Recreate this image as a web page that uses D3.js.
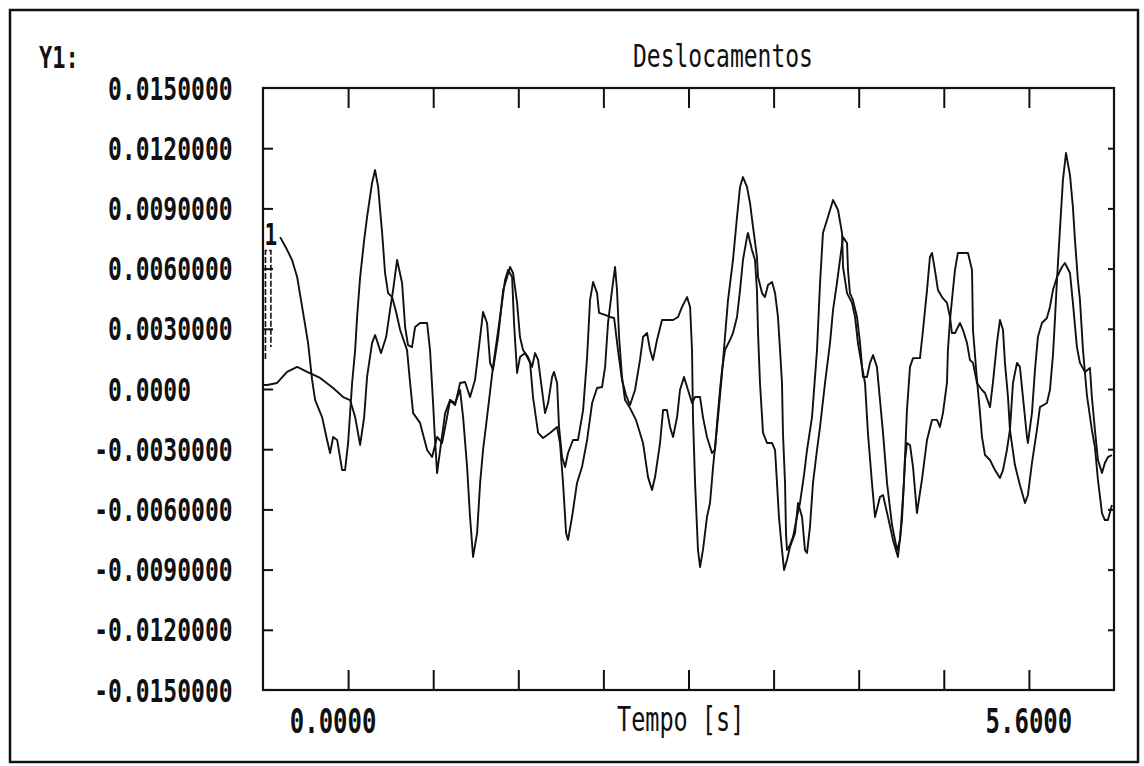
<!DOCTYPE html>
<html><head><meta charset="utf-8">
<script src="https://cdn.jsdelivr.net/npm/d3@7/dist/d3.min.js"></script>
<style>body{margin:0;background:#fff}</style>
</head><body>
<svg id="c" width="1144" height="766"></svg>
<script>
// ---- data ----
const yTicks = [0.015, 0.012, 0.009, 0.006, 0.003, 0, -0.003, -0.006, -0.009, -0.012, -0.015];
const yTickLabels = ["0.0150000","0.0120000","0.0090000","0.0060000","0.0030000","0.0000",
                     "-0.0030000","-0.0060000","-0.0090000","-0.0120000","-0.0150000"];
const xTicks = [0, 0.7, 1.4, 2.1, 2.8, 3.5, 4.2, 4.9, 5.6];
const xLabelTimes = [0, 5.6];
const xLabelTexts = ["0.0000", "5.6000"];
const xDomain = [-0.7, 6.3];
const yDomain = [-0.015, 0.015];
const title = "Deslocamentos";
const yTitle = "Y1:";
const xTitle = "Tempo [s]";
const curveLabel = "1";
// leader marks under the curve label (time pair, value range)
const leaderTimes = [-0.68, -0.635];
const leaderValues = [0.0069, 0.0015];

// curve 1 (labelled "1")
const t1 = [-0.559,-0.510,-0.461,-0.419,-0.370,-0.329,-0.296,-0.271,-0.214,-0.173,-0.148,-0.123,-0.090,-0.049,-0.025,0.000,
0.033,0.058,0.074,0.099,0.132,0.156,0.197,0.222,0.247,0.280,0.304,0.329,0.362,0.395,0.428,0.485,0.510,0.535,0.592,0.650,
0.691,0.732,0.773,0.814,0.839,0.880,0.921,0.962,1.003,1.044,1.086,1.110,1.143,1.168,1.192,1.234,1.275,1.308,1.332,1.357,
1.390,1.414,1.439,1.480,1.513,1.538,1.563,1.595,1.620,1.645,1.678,1.694,1.719,1.735,1.760,1.785,1.809,1.850,1.891,1.933,
1.966,1.990,2.015,2.048,2.064,2.114,2.155,2.188,2.220,2.253,2.286,2.319,2.360,2.401,2.426,2.459,2.484,2.508,2.541,2.582,
2.623,2.673,2.714,2.747,2.788,2.813,2.829,2.837,2.854,2.878,2.895,2.919,2.952,2.977,3.002,3.043,3.076,3.100,3.125,3.166,
3.199,3.224,3.248,3.281,3.306,3.331,3.363,3.372,3.405,3.429,3.454,3.487,3.512,3.536,3.553,3.569,3.577,3.594,3.602,3.610,
3.635,3.660,3.692,3.717,3.750,3.775,3.816,3.857,3.882,3.906,3.947,3.989,4.030,4.063,4.071,4.104,4.145,4.170,4.194,4.227,
4.252,4.276,4.309,4.334,4.375,4.400,4.441,4.482,4.523,4.556,4.581,4.597,4.622,4.647,4.679,4.720,4.762,4.803,4.844,4.868,
4.893,4.926,4.934,4.951,4.975,4.992,5.016,5.058,5.099,5.132,5.140,5.173,5.198,5.214,5.239,5.280,5.321,5.362,5.387,5.419,
5.444,5.469,5.502,5.526,5.551,5.584,5.592,5.625,5.650,5.674,5.707,5.748,5.773,5.798,5.831,5.872,5.896,5.938,5.962,5.995,
6.020,6.061,6.102,6.118,6.143,6.168,6.201,6.225,6.250,6.283];
const v1 = [0.00757,0.00703,0.00643,0.00558,0.00379,0.00229,0.00045,-0.00055,-0.00140,-0.00254,-0.00319,-0.00239,-0.00254,-0.00404,-0.00404,-0.00269,
0.00030,0.00194,0.00359,0.00558,0.00742,0.00857,0.01027,0.01091,0.01007,0.00777,0.00578,0.00478,0.00458,0.00384,0.00294,0.00194,0.00030,-0.00120,-0.00169,-0.00304,
-0.00339,-0.00239,-0.00269,-0.00140,-0.00055,-0.00080,0.00030,0.00035,-0.00040,0.00045,0.00259,0.00384,0.00329,0.00130,0.00095,0.00259,0.00493,0.00558,0.00608,0.00578,
0.00429,0.00259,0.00194,0.00159,0.00110,0.00179,0.00145,-0.00005,-0.00120,-0.00070,0.00060,0.00085,0.00030,-0.00189,-0.00339,-0.00389,-0.00319,-0.00254,-0.00254,-0.00105,
0.00159,0.00443,0.00533,0.00478,0.00379,0.00369,0.00359,0.00354,0.00194,0.00045,-0.00030,-0.00080,-0.00005,0.00145,0.00259,0.00279,0.00194,0.00145,0.00244,0.00344,
0.00344,0.00344,0.00359,0.00409,0.00458,0.00409,0.00194,-0.00140,-0.00468,-0.00802,-0.00887,-0.00802,-0.00638,-0.00568,-0.00389,-0.00140,0.00080,0.00259,0.00443,0.00643,
0.00857,0.01007,0.01056,0.01007,0.00927,0.00807,0.00658,0.00558,0.00478,0.00458,0.00518,0.00533,0.00478,0.00359,0.00194,0.00030,-0.00219,-0.00468,-0.00718,-0.00802,
-0.00777,-0.00737,-0.00638,-0.00568,-0.00429,-0.00304,-0.00140,0.00194,0.00528,0.00777,0.00857,0.00942,0.00892,0.00777,0.00608,0.00478,0.00429,0.00359,0.00229,0.00110,
0.00030,-0.00219,-0.00468,-0.00638,-0.00538,-0.00528,-0.00638,-0.00752,-0.00837,-0.00653,-0.00354,-0.00269,-0.00279,-0.00389,-0.00618,-0.00453,-0.00254,-0.00154,-0.00154,-0.00189,
-0.00120,0.00030,0.00194,0.00344,0.00493,0.00593,0.00678,0.00678,0.00678,0.00593,0.00294,0.00045,-0.00120,-0.00239,-0.00329,-0.00354,-0.00404,-0.00443,-0.00404,-0.00304,
-0.00204,0.00030,0.00130,0.00110,-0.00040,-0.00239,-0.00269,-0.00120,0.00095,0.00259,0.00329,0.00354,0.00409,0.00493,0.00558,0.00608,0.00628,0.00578,0.00429,0.00209,
0.00130,0.00085,0.00105,-0.00040,-0.00204,-0.00354,-0.00419,-0.00369,-0.00339,-0.00329];

// curve 2
const t2 = [-0.699,-0.666,-0.584,-0.502,-0.419,-0.337,-0.230,-0.123,-0.041,0.016,0.058,0.099,0.132,0.156,0.197,0.222,0.271,0.313,0.345,0.370,
0.403,0.444,0.469,0.493,0.526,0.551,0.592,0.650,0.674,0.699,0.715,0.732,0.765,0.798,0.839,0.880,0.921,0.946,0.979,1.003,
1.028,1.061,1.086,1.110,1.143,1.192,1.250,1.291,1.316,1.349,1.365,1.390,1.414,1.456,1.497,1.521,1.563,1.604,1.661,1.719,
1.743,1.768,1.793,1.809,1.842,1.883,1.924,1.966,2.007,2.048,2.089,2.114,2.138,2.171,2.196,2.212,2.229,2.253,2.278,2.319,
2.368,2.426,2.467,2.500,2.525,2.566,2.591,2.623,2.648,2.673,2.706,2.730,2.763,2.796,2.829,2.854,2.895,2.919,2.952,2.993,
3.018,3.035,3.059,3.076,3.100,3.141,3.166,3.199,3.224,3.248,3.281,3.289,3.322,3.347,3.363,3.372,3.388,3.413,3.446,3.487,
3.512,3.528,3.544,3.569,3.586,3.610,3.635,3.676,3.701,3.734,3.758,3.775,3.799,3.824,3.857,3.882,3.923,3.964,3.989,4.021,
4.046,4.071,4.104,4.112,4.128,4.153,4.186,4.211,4.235,4.268,4.293,4.318,4.350,4.375,4.400,4.433,4.474,4.515,4.540,4.572,
4.597,4.622,4.647,4.704,4.729,4.762,4.786,4.803,4.827,4.852,4.885,4.926,4.951,4.967,4.992,5.033,5.058,5.091,5.115,5.140,
5.173,5.214,5.239,5.280,5.304,5.337,5.362,5.387,5.403,5.428,5.444,5.485,5.526,5.568,5.592,5.625,5.666,5.691,5.748,5.773,
5.798,5.814,5.831,5.855,5.880,5.905,5.938,5.962,5.979,6.003,6.020,6.045,6.077,6.118,6.143,6.168,6.201,6.225,6.250,6.283];
const v2 = [0.00020,0.00020,0.00030,0.00085,0.00110,0.00085,0.00055,0.00005,-0.00040,-0.00055,-0.00140,-0.00279,-0.00140,0.00060,0.00229,0.00269,0.00179,0.00259,0.00394,0.00493,
0.00643,0.00528,0.00309,0.00219,0.00209,0.00309,0.00329,0.00329,0.00194,-0.00070,-0.00254,-0.00419,-0.00269,-0.00120,-0.00055,-0.00070,-0.00005,-0.00140,-0.00389,-0.00638,
-0.00837,-0.00718,-0.00468,-0.00304,-0.00140,0.00110,0.00359,0.00543,0.00593,0.00558,0.00329,0.00080,0.00159,0.00179,0.00130,-0.00040,-0.00219,-0.00244,-0.00219,-0.00189,
-0.00269,-0.00468,-0.00718,-0.00752,-0.00638,-0.00468,-0.00389,-0.00254,-0.00070,0.00005,0.00010,0.00110,0.00329,0.00493,0.00608,0.00493,0.00259,0.00060,-0.00055,-0.00095,
-0.00154,-0.00269,-0.00439,-0.00503,-0.00439,-0.00269,-0.00105,-0.00105,-0.00189,-0.00239,-0.00140,-0.00005,0.00060,-0.00005,-0.00070,-0.00040,-0.00040,-0.00140,-0.00239,-0.00319,
-0.00304,-0.00169,-0.00005,0.00095,0.00194,0.00244,0.00279,0.00359,0.00493,0.00643,0.00757,0.00777,0.00693,0.00643,0.00493,0.00279,0.00030,-0.00219,-0.00269,-0.00269,
-0.00304,-0.00468,-0.00638,-0.00802,-0.00902,-0.00852,-0.00787,-0.00718,-0.00568,-0.00638,-0.00802,-0.00817,-0.00688,-0.00468,-0.00304,-0.00189,0.00030,0.00229,0.00394,0.00528,
0.00643,0.00757,0.00728,0.00593,0.00478,0.00443,0.00359,0.00229,0.00060,0.00060,0.00130,0.00169,0.00110,-0.00055,-0.00219,-0.00468,-0.00678,-0.00802,-0.00752,-0.00468,
-0.00105,0.00110,0.00154,0.00154,0.00294,0.00493,0.00658,0.00678,0.00593,0.00493,0.00458,0.00429,0.00359,0.00279,0.00279,0.00329,0.00294,0.00229,0.00145,0.00130,
0.00030,-0.00005,-0.00020,-0.00090,0.00030,0.00229,0.00344,0.00294,0.00130,-0.00040,-0.00204,-0.00379,-0.00478,-0.00568,-0.00528,-0.00369,-0.00204,-0.00090,-0.00070,-0.00005,
0.00169,0.00344,0.00543,0.00792,0.01041,0.01176,0.01066,0.00907,0.00742,0.00543,0.00443,0.00194,-0.00030,-0.00204,-0.00289,-0.00453,-0.00618,-0.00653,-0.00653,-0.00578];

// ---- drawing ----
const svg = d3.select("#c");
const ink = "#111";
const mono = "'DejaVu Sans Mono', 'Liberation Mono', monospace";

const x = d3.scaleLinear().domain(xDomain).range([263, 1114]);
const y = d3.scaleLinear().domain(yDomain).range([690, 88]);

// outer frame
svg.append("rect").attr("x", 10).attr("y", 10).attr("width", 1128).attr("height", 752)
  .attr("fill", "none").attr("stroke", ink).attr("stroke-width", 2.5);

// plot box
svg.append("rect").attr("x", x.range()[0]).attr("y", y.range()[1])
  .attr("width", x.range()[1] - x.range()[0]).attr("height", y.range()[0] - y.range()[1])
  .attr("fill", "none").attr("stroke", ink).attr("stroke-width", 2.2);

// axes ticks via d3 axes
const inner = yTicks.filter(v => v !== yDomain[0] && v !== yDomain[1]);
const axL = svg.append("g").attr("transform", `translate(${x.range()[0]},0)`)
  .call(d3.axisRight(y).tickValues(inner).tickSize(10).tickFormat(""));
const axR = svg.append("g").attr("transform", `translate(${x.range()[1]},0)`)
  .call(d3.axisLeft(y).tickValues(inner).tickSize(6).tickFormat(""));
const axB = svg.append("g").attr("transform", `translate(0,${y.range()[0]})`)
  .call(d3.axisTop(x).tickValues(xTicks).tickSize(20).tickFormat(""));
const axT = svg.append("g").attr("transform", `translate(0,${y.range()[1]})`)
  .call(d3.axisBottom(x).tickValues(xTicks).tickSize(20).tickFormat(""));
[axL, axR, axB, axT].forEach(g => {
  g.select(".domain").remove();
  g.selectAll("line").attr("stroke", ink).attr("stroke-width", 2);
});

function txt(str, tx, ty, size, sy, weight, anchor) {
  svg.append("text")
    .attr("transform", `translate(${tx},${ty}) scale(1,${sy})`)
    .attr("font-family", mono).attr("font-size", size)
    .attr("font-weight", weight).attr("fill", ink)
    .attr("text-anchor", anchor || "start")
    .text(str);
}

// y tick labels
const cw = 23 * 0.602;
yTicks.forEach((v, i) => {
  const lab = yTickLabels[i];
  const sx = lab.startsWith("-") ? 108 - cw : 108;
  txt(lab, sx, y(v) + 11.5, 23, 1.37, "bold");
});

// x tick labels
xLabelTimes.forEach((t, i) => {
  const off = i === 0 ? -15 : 0;
  txt(xLabelTexts[i], x(t) + off, 733, 24, 1.42, "bold", "middle");
});

txt(yTitle, 39, 68, 22, 1.37, "bold");
txt(title, 633, 67, 23, 1.37, "normal");
txt(xTitle, 617, 731, 23.5, 1.40, "normal");

// curves
const clipId = "plotclip";
svg.append("clipPath").attr("id", clipId).append("rect")
  .attr("x", x.range()[0]).attr("y", y.range()[1])
  .attr("width", x.range()[1] - x.range()[0]).attr("height", y.range()[0] - y.range()[1]);

const line = d3.line().x(d => x(d[0])).y(d => y(d[1]));
[[t1, v1], [t2, v2]].forEach(([ts, vs]) => {
  svg.append("path").datum(ts.map((t, i) => [t, vs[i]]))
    .attr("d", line).attr("fill", "none").attr("stroke", ink)
    .attr("stroke-width", 1.9).attr("stroke-linejoin", "round")
    .attr("clip-path", `url(#${clipId})`);
});

// curve label "1" with its leader marks
txt(curveLabel, x(-0.635), y(0.0072), 21, 1.45, "bold", "middle");
const lx0 = x(leaderTimes[0]), lx1 = x(leaderTimes[1]);
svg.append("path")
  .attr("d", `M${lx0},${y(leaderValues[1])}V${y(leaderValues[0])}H${lx1}V${y(leaderValues[1]) - 12}`)
  .attr("fill", "none").attr("stroke", ink).attr("stroke-width", 1.6)
  .attr("stroke-dasharray", "6,2");
</script>
</body></html>
